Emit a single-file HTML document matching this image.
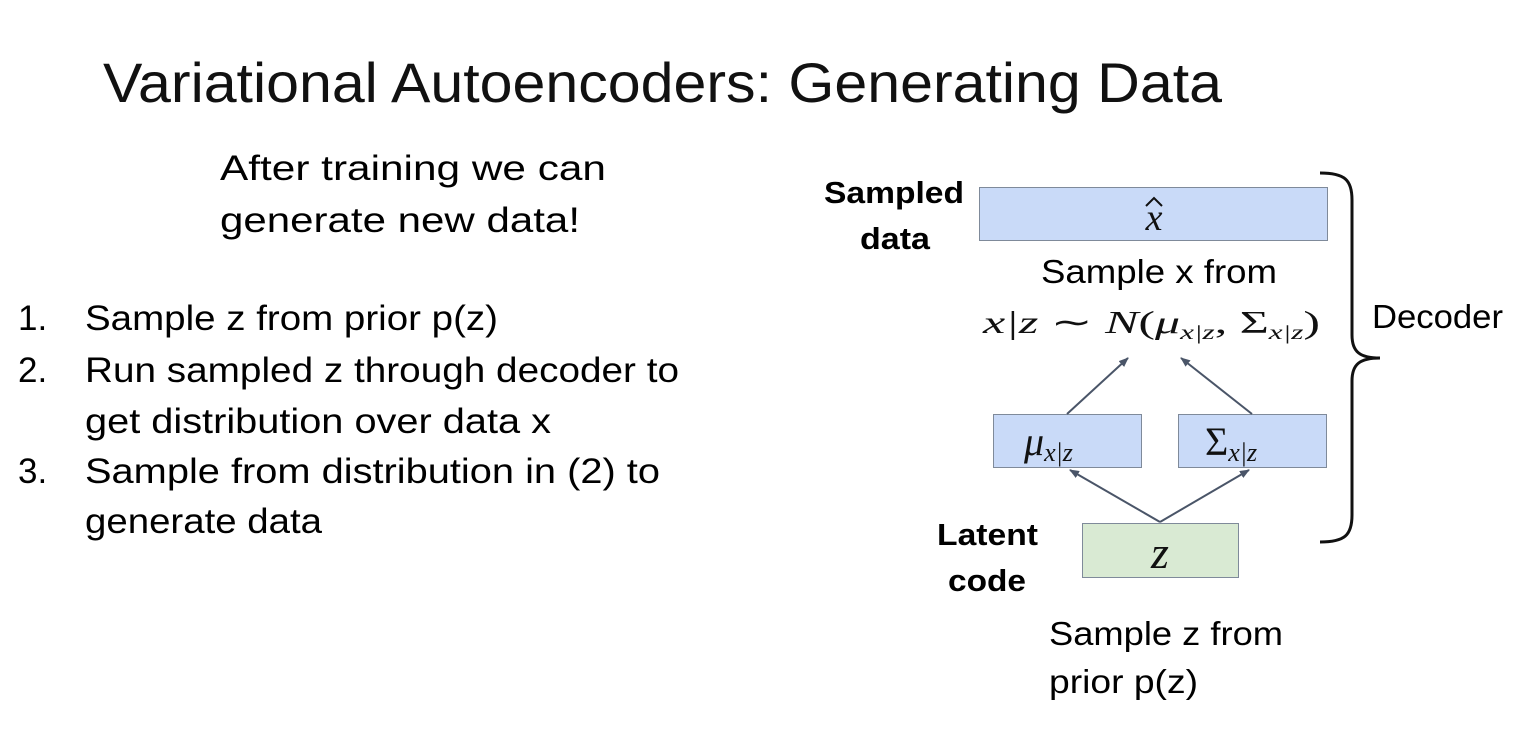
<!DOCTYPE html>
<html><head><meta charset="utf-8"><style>
html,body{margin:0;padding:0;background:#fff;width:1530px;height:742px;overflow:hidden}
</style></head><body>
<svg width="1530" height="742" viewBox="0 0 1530 742" xmlns="http://www.w3.org/2000/svg" font-family="Liberation Sans, sans-serif">
<defs><marker id="a" markerWidth="10" markerHeight="8" refX="9" refY="4" orient="auto" markerUnits="userSpaceOnUse"><path d="M0,0 L10,4 L0,8 z" fill="#4a5568"/></marker></defs>
<text x="103" y="102" font-size="56" textLength="1119" lengthAdjust="spacingAndGlyphs" fill="#111">Variational Autoencoders: Generating Data</text>
<g font-size="35" fill="#000">
<text x="220" y="180" textLength="386" lengthAdjust="spacingAndGlyphs">After training we can</text>
<text x="220" y="232" textLength="360" lengthAdjust="spacingAndGlyphs">generate new data!</text>
<text x="18" y="330">1.</text><text x="85" y="330" textLength="413" lengthAdjust="spacingAndGlyphs">Sample z from prior p(z)</text>
<text x="18" y="382">2.</text><text x="85" y="382" textLength="594" lengthAdjust="spacingAndGlyphs">Run sampled z through decoder to</text>
<text x="85" y="433" textLength="466" lengthAdjust="spacingAndGlyphs">get distribution over data x</text>
<text x="18" y="483">3.</text><text x="85" y="483" textLength="575" lengthAdjust="spacingAndGlyphs">Sample from distribution in (2) to</text>
<text x="85" y="533" textLength="237" lengthAdjust="spacingAndGlyphs">generate data</text>
</g>
<g font-size="31" font-weight="bold">
<text x="824" y="203" textLength="140" lengthAdjust="spacingAndGlyphs">Sampled</text>
<text x="860" y="249" textLength="70" lengthAdjust="spacingAndGlyphs">data</text>
<text x="937" y="545" textLength="101" lengthAdjust="spacingAndGlyphs">Latent</text>
<text x="948" y="591" textLength="78" lengthAdjust="spacingAndGlyphs">code</text>
</g>
<g font-size="33">
<text x="1041" y="283" textLength="236" lengthAdjust="spacingAndGlyphs">Sample x from</text>
<text x="1372" y="328" textLength="131" lengthAdjust="spacingAndGlyphs">Decoder</text>
<text x="1049" y="645" textLength="234" lengthAdjust="spacingAndGlyphs">Sample z from</text>
<text x="1049" y="693" textLength="149" lengthAdjust="spacingAndGlyphs">prior p(z)</text>
</g>
<rect x="979.5" y="187.5" width="348" height="53" fill="#c9daf8" stroke="#7f8a9a"/>
<rect x="993.5" y="414.5" width="148" height="53" fill="#c9daf8" stroke="#7f8a9a"/>
<rect x="1178.5" y="414.5" width="148" height="53" fill="#c9daf8" stroke="#7f8a9a"/>
<rect x="1082.5" y="523.5" width="156" height="54" fill="#d9ead3" stroke="#7f8a9a"/>
<g font-family="Liberation Serif, serif" font-style="italic" fill="#111">
<text x="1154" y="230" font-size="38" text-anchor="middle">x</text>
<path d="M1146,206 L1154,198 L1162,206" fill="none" stroke="#111" stroke-width="2"/>
<text x="1024" y="455" font-size="40">μ<tspan font-size="26" dy="6">x|z</tspan></text>
<text x="1205" y="455" font-size="40" font-style="normal">Σ<tspan font-size="26" dy="6" font-style="italic">x|z</tspan></text>
<text x="1160" y="568" font-size="46" text-anchor="middle">z</text>
<text x="983" y="333" font-size="32" textLength="337" lengthAdjust="spacingAndGlyphs">x|z <tspan font-style="normal">∼</tspan> N<tspan font-style="normal">(</tspan>μ<tspan font-size="20" dy="6">x|z</tspan><tspan dy="-6" font-style="normal">, Σ</tspan><tspan font-size="20" dy="6">x|z</tspan><tspan dy="-6" font-style="normal">)</tspan></text>
</g>
<g stroke="#4a5568" stroke-width="2" fill="none" marker-end="url(#a)">
<line x1="1067" y1="414" x2="1128" y2="358"/>
<line x1="1252" y1="414" x2="1181" y2="358"/>
<line x1="1160" y1="522" x2="1070" y2="470"/>
<line x1="1160" y1="522" x2="1249" y2="470"/>
</g>
<path d="M1320,173 C1345,173 1352,180 1352,200 L1352,335 C1352,352 1360,358 1380,358 C1360,358 1352,364 1352,381 L1352,515 C1352,535 1345,542 1320,542" fill="none" stroke="#111" stroke-width="3"/>
</svg>
</body></html>
